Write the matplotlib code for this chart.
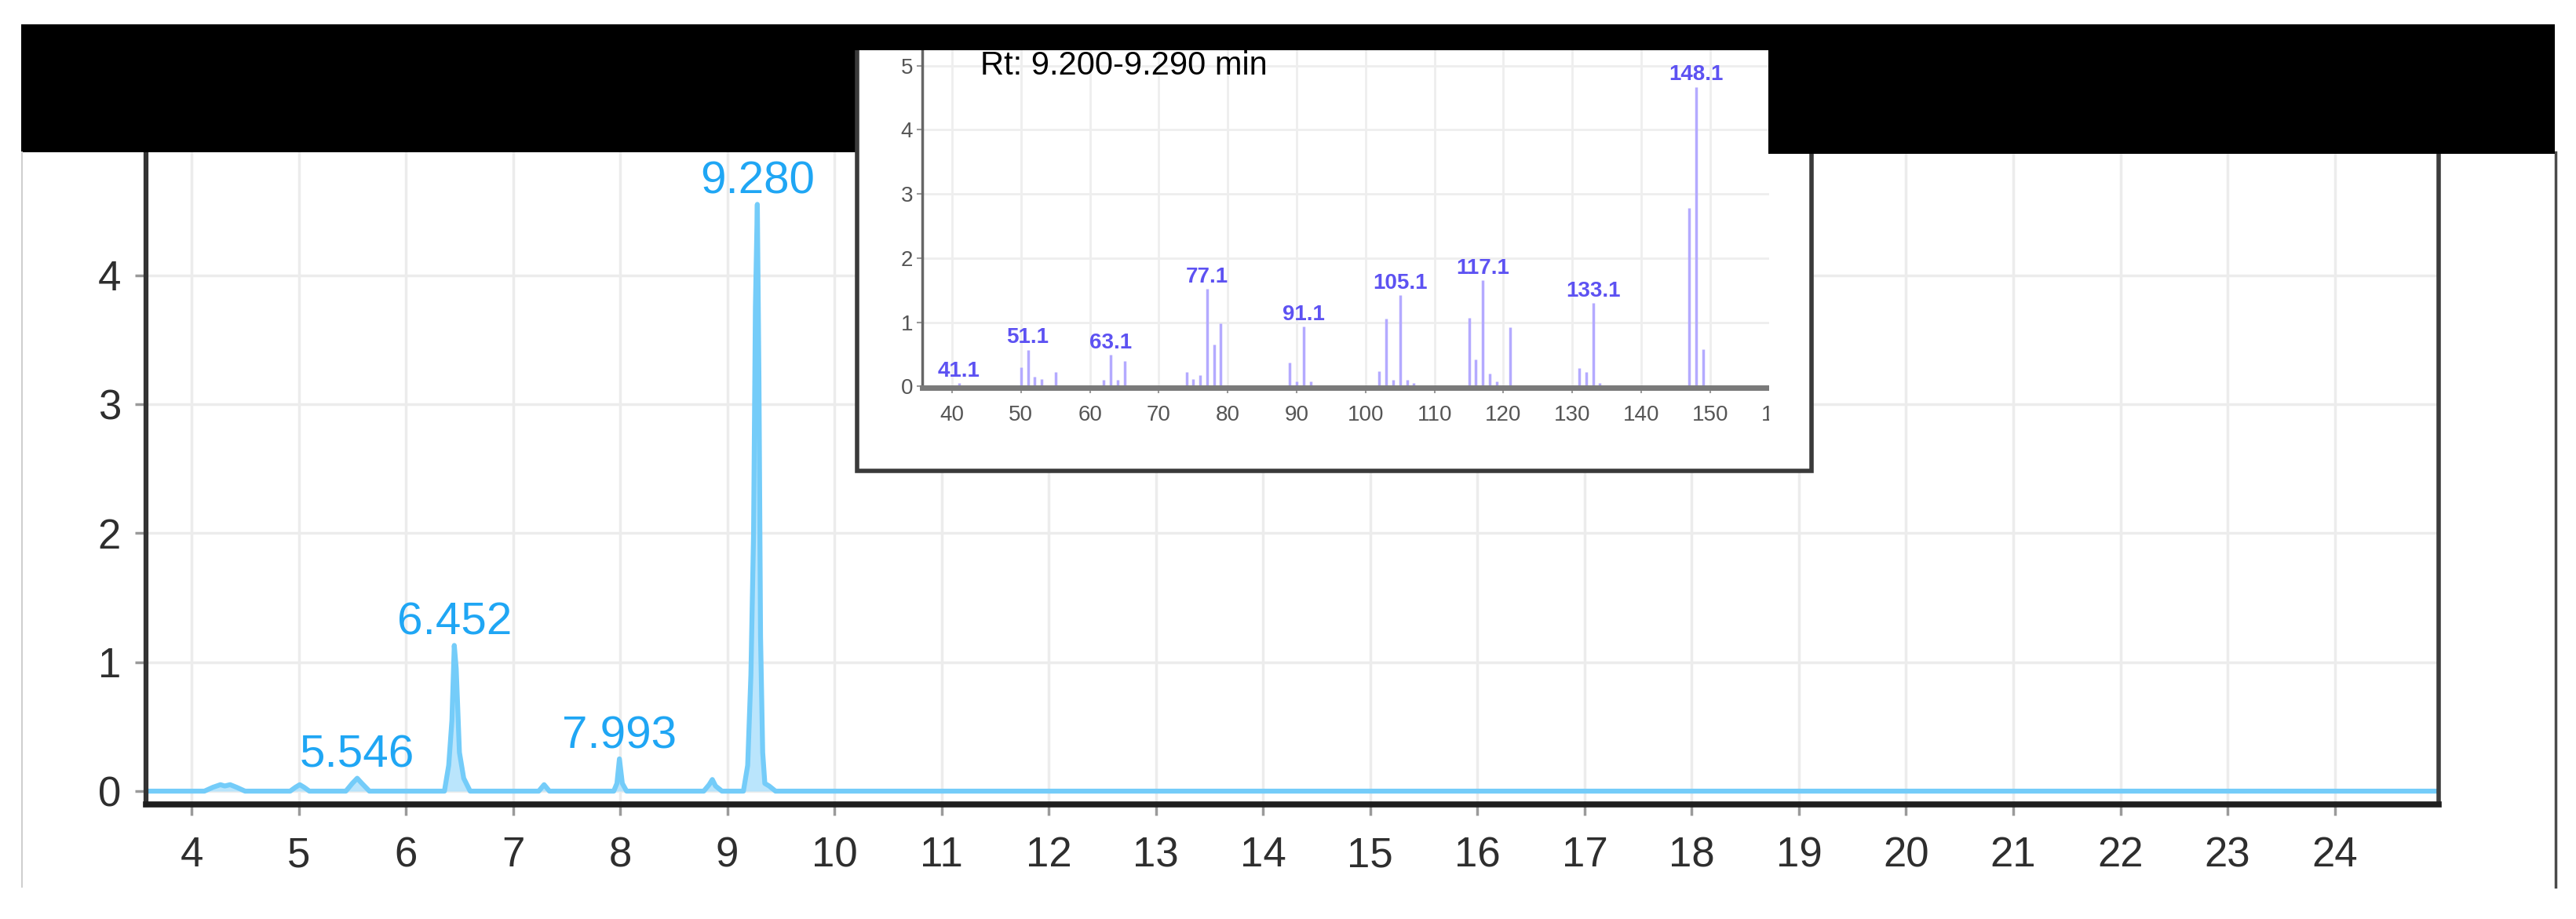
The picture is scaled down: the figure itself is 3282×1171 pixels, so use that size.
import matplotlib
matplotlib.use("Agg")
import matplotlib.pyplot as plt
from matplotlib.patches import Rectangle
from matplotlib.lines import Line2D

plt.rcParams['font.family'] = ['Liberation Sans', 'DejaVu Sans']

# --- данные хроматограммы (время удерживания, мин / интенсивность) ---
rt_vals = [3.57, 4.12, 4.20, 4.27, 4.31, 4.36, 4.42, 4.50,
           4.92, 4.97, 5.01, 5.05, 5.10,
           5.44, 5.50, 5.546, 5.59, 5.66,
           6.36, 6.40, 6.43, 6.452, 6.47, 6.50, 6.54, 6.60,
           7.24, 7.29, 7.34,
           7.94, 7.97, 7.993, 8.02, 8.06,
           8.78, 8.83, 8.86, 8.89, 8.95,
           9.15, 9.19, 9.22, 9.245, 9.262, 9.28, 9.295, 9.31, 9.33, 9.35, 9.39, 9.45,
           24.97]
tic_vals = [0.0, 0.0, 0.03, 0.05, 0.04, 0.05, 0.03, 0.0,
            0.0, 0.03, 0.05, 0.03, 0.0,
            0.0, 0.06, 0.10, 0.06, 0.0,
            0.0, 0.20, 0.55, 1.13, 0.95, 0.30, 0.10, 0.0,
            0.0, 0.05, 0.0,
            0.0, 0.06, 0.25, 0.06, 0.0,
            0.0, 0.05, 0.09, 0.04, 0.0,
            0.0, 0.20, 0.90, 2.00, 3.75, 4.55, 3.20, 1.20, 0.30, 0.06, 0.04, 0.0,
            0.0]

peak_rt = [5.546, 6.452, 7.993, 9.280]
peak_h = [0.10, 1.13, 0.25, 4.55]
peak_labels = ["5.546", "6.452", "7.993", "9.280"]

x_ticks = list(range(4, 25))
y_ticks = [0, 1, 2, 3, 4]

# --- масс-спектр во врезке ---
mz_vals = [41, 50, 51, 52, 53, 55, 62, 63, 64, 65,
           74, 75, 76, 77, 78, 79, 89, 90, 91, 92,
           102, 103, 104, 105, 106, 107, 115, 116, 117, 118, 119, 121,
           131, 132, 133, 134, 147, 148, 149]
ab_vals = [0.05, 0.30, 0.57, 0.15, 0.12, 0.22, 0.10, 0.49, 0.10, 0.39,
           0.22, 0.12, 0.18, 1.52, 0.65, 0.98, 0.37, 0.08, 0.93, 0.08,
           0.24, 1.06, 0.10, 1.42, 0.10, 0.05, 1.07, 0.42, 1.65, 0.20, 0.08, 0.92,
           0.28, 0.22, 1.30, 0.05, 2.78, 4.67, 0.58]
ms_label_mz = [41, 51, 63, 77, 91, 105, 117, 133, 148]
ms_label_txt = ["41.1", "51.1", "63.1", "77.1", "91.1", "105.1", "117.1", "133.1", "148.1"]
ms_x_ticks = list(range(40, 170, 10))
ms_y_ticks = [0, 1, 2, 3, 4, 5]
ms_title = "Rt: 9.200-9.290 min"

W, H = 3282, 1171


def box(x0, y0, x1, y1):
    # пиксели (сверху вниз) -> доли фигуры
    return [x0 / W, 1 - y1 / H, (x1 - x0) / W, (y1 - y0) / H]


fig = plt.figure(figsize=(W / 100, H / 100), dpi=100)
fig.patch.set_facecolor('white')

# --- основная хроматограмма ---
ax = fig.add_axes(box(186, 194, 3107, 1025), zorder=0)
ax.fill_between(rt_vals, tic_vals, 0, color='#b3e3fc', alpha=0.9, lw=0)
ax.plot(rt_vals, tic_vals, color='#74ccf9', lw=4.5, solid_joinstyle='round')
for t, h, s in zip(peak_rt, peak_h, peak_labels):
    ax.annotate(s, xy=(t, h), xytext=(0, 10), textcoords='offset points',
                ha='center', va='baseline', fontsize=42, color='#1fa6f4')

ax.set_xlim(3.575, 24.97)
ax.set_ylim(-0.103, 4.954)
ax.set_xticks(x_ticks)
ax.set_yticks(y_ticks)
ax.grid(True, color='#ececec', lw=2.5)
ax.set_axisbelow(True)
ax.tick_params(axis='both', labelsize=38, colors='#2e2e2e', length=10, width=2.5,
               direction='out')
ax.tick_params(axis='both', color='#9a9a9a')
ax.tick_params(axis='x', pad=19)
ax.tick_params(axis='y', pad=13)
ax.spines['top'].set_visible(False)
ax.spines['left'].set_color('#333333')
ax.spines['left'].set_linewidth(4.5)
ax.spines['bottom'].set_color('#1e1e1e')
ax.spines['bottom'].set_linewidth(5.5)
ax.spines['right'].set_color('#3c3c3c')
ax.spines['right'].set_linewidth(4)

# чёрная плашка сверху
fig.add_artist(Rectangle((27 / W, 1 - 194 / H), (3255 - 27) / W, (194 - 31) / H,
                         transform=fig.transFigure, facecolor='black',
                         edgecolor='none', zorder=1))
# рамка рисунка
fig.add_artist(Line2D([28 / W, 28 / W], [1 - 194 / H, 1 - 1130 / H],
                      transform=fig.transFigure, color='#cfcfcf', lw=1.5, zorder=1))
fig.add_artist(Line2D([3256 / W, 3256 / W], [1 - 194 / H, 1 - 1130 / H],
                      transform=fig.transFigure, color='#4a4a4a', lw=2.5, zorder=1))

# --- врезка: масс-спектр ---
fig.add_artist(Rectangle((1092 / W, 1 - 600 / H), (2308 - 1092) / W, (600 - 58) / H,
                         transform=fig.transFigure, facecolor='white',
                         edgecolor='#3a3a3a', lw=4, zorder=2))
ax_in = fig.add_axes(box(1175, 64, 2300, 494), zorder=3)
ax_in.set_facecolor('none')
ax_in.vlines(mz_vals, 0, ab_vals, color='#b4aaff', lw=2.5, zorder=2)
ab_map = dict(zip(mz_vals, ab_vals))
for m, s in zip(ms_label_mz, ms_label_txt):
    ax_in.annotate(s, xy=(m, ab_map[m]), xytext=(0, 6), textcoords='offset points',
                   ha='center', va='baseline', fontsize=20, fontweight='bold',
                   color='#5d52f2', zorder=5)
ax_in.set_xlim(35.67, 163.8)
ax_in.set_ylim(-0.02, 5.24)
ax_in.set_xticks(ms_x_ticks)
ax_in.set_yticks(ms_y_ticks)
ax_in.grid(True, color='#eeeeee', lw=2)
ax_in.set_axisbelow(True)
ax_in.tick_params(axis='both', labelsize=20, colors='#555555', length=5, width=1.5)
ax_in.tick_params(axis='both', color='#999999')
ax_in.tick_params(axis='x', pad=11)
for side in ['top', 'right']:
    ax_in.spines[side].set_visible(False)
ax_in.spines['left'].set_color('#666666')
ax_in.spines['left'].set_linewidth(2.5)
ax_in.spines['bottom'].set_color('#7a7a7a')
ax_in.spines['bottom'].set_linewidth(5)
fig.text(1249 / W, 1 - 95 / H, ms_title, fontsize=30, color='black',
         ha='left', va='baseline', zorder=3.5)

# верхние чёрные полосы поверх врезки и обрезка её правого края
fig.add_artist(Rectangle((27 / W, 1 - 64 / H), (3255 - 27) / W, (64 - 31) / H,
                         transform=fig.transFigure, facecolor='black',
                         edgecolor='none', zorder=4))
fig.add_artist(Rectangle((2253 / W, 1 - 196 / H), (3255 - 2253) / W, (196 - 31) / H,
                         transform=fig.transFigure, facecolor='black',
                         edgecolor='none', zorder=4))
fig.add_artist(Rectangle((2254 / W, 1 - 597 / H), (2304 - 2254) / W, (597 - 196) / H,
                         transform=fig.transFigure, facecolor='white',
                         edgecolor='none', zorder=4))

fig.savefig('out.png', dpi=100)
